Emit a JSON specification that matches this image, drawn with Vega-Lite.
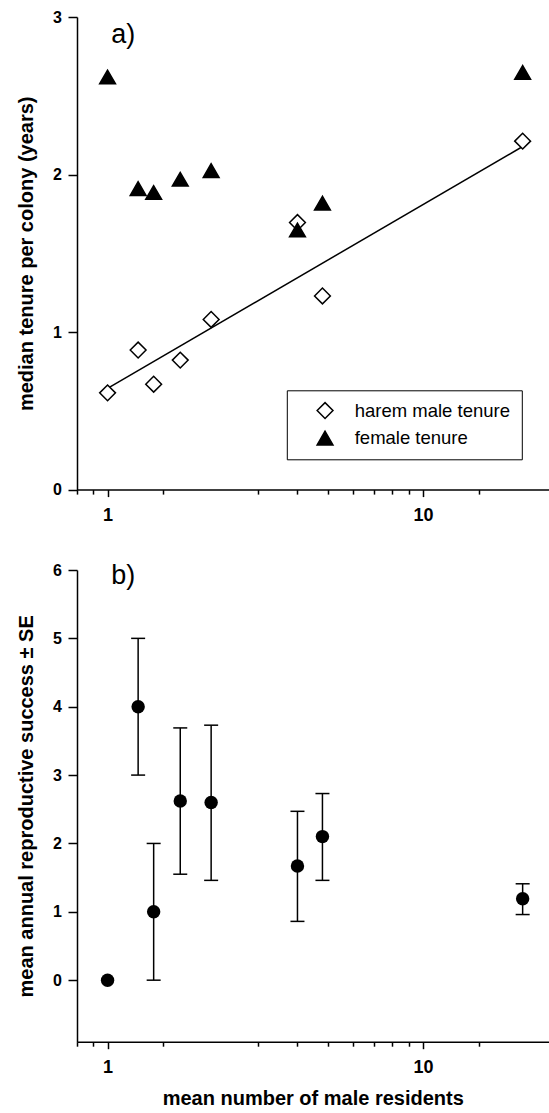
{
  "$schema": "https://vega.github.io/schema/vega-lite/v6.json",
  "background": "white",
  "padding": {"left": 16, "top": 9, "right": 0, "bottom": 0},
  "bounds": "flush",
  "spacing": 80,
  "config": {
    "font": "Liberation Sans",
    "view": {"stroke": null},
    "axis": {
      "grid": false,
      "domainColor": "black",
      "domainWidth": 1.5,
      "tickColor": "black",
      "tickWidth": 1.5,
      "labelColor": "black",
      "titleColor": "black",
      "labelFont": "Liberation Sans",
      "titleFont": "Liberation Sans",
      "labelFontWeight": "bold",
      "titleFontWeight": "bold",
      "titleFontSize": 20
    },
    "axisX": {"labelFontSize": 18, "labelPadding": 10, "titlePadding": 12},
    "axisY": {"labelFontSize": 16, "tickSize": 9, "labelPadding": 6.5, "titlePadding": 16},
    "legend": {
      "title": null,
      "strokeColor": "black",
      "padding": 11,
      "symbolOffset": 18,
      "labelOffset": 20.4,
      "labelFontSize": 18.5,
      "labelFont": "Liberation Sans",
      "labelColor": "black",
      "rowPadding": 5.5,
      "symbolSize": 250,
      "symbolStrokeWidth": 1.5,
      "labelLimit": 400
    }
  },
  "datasets": {
    "fit": [
      {"x": 1, "tenure": 0.642},
      {"x": 20.7, "tenure": 2.178}
    ],
    "tenure": [
      {"x": 1, "tenure": 0.614, "group": "harem male tenure"},
      {"x": 1.25, "tenure": 0.886, "group": "harem male tenure"},
      {"x": 1.40, "tenure": 0.669, "group": "harem male tenure"},
      {"x": 1.70, "tenure": 0.822, "group": "harem male tenure"},
      {"x": 2.13, "tenure": 1.080, "group": "harem male tenure"},
      {"x": 4.0, "tenure": 1.695, "group": "harem male tenure"},
      {"x": 4.8, "tenure": 1.229, "group": "harem male tenure"},
      {"x": 20.7, "tenure": 2.212, "group": "harem male tenure"},
      {"x": 1, "tenure": 2.619, "group": "female tenure"},
      {"x": 1.25, "tenure": 1.911, "group": "female tenure"},
      {"x": 1.40, "tenure": 1.886, "group": "female tenure"},
      {"x": 1.70, "tenure": 1.970, "group": "female tenure"},
      {"x": 2.13, "tenure": 2.025, "group": "female tenure"},
      {"x": 4.0, "tenure": 1.648, "group": "female tenure"},
      {"x": 4.8, "tenure": 1.818, "group": "female tenure"},
      {"x": 20.7, "tenure": 2.648, "group": "female tenure"}
    ],
    "rs": [
      {"x": 1, "mean": 0, "lo": null, "hi": null},
      {"x": 1.25, "mean": 4.0, "lo": 3.0, "hi": 5.0},
      {"x": 1.40, "mean": 1.0, "lo": 0.0, "hi": 2.0},
      {"x": 1.70, "mean": 2.62, "lo": 1.55, "hi": 3.69},
      {"x": 2.13, "mean": 2.60, "lo": 1.46, "hi": 3.73},
      {"x": 4.0, "mean": 1.67, "lo": 0.86, "hi": 2.47},
      {"x": 4.8, "mean": 2.10, "lo": 1.46, "hi": 2.73},
      {"x": 20.7, "mean": 1.19, "lo": 0.96, "hi": 1.41}
    ]
  },
  "vconcat": [
    {
      "width": 471.5,
      "height": 472.6,
      "layer": [
        {
          "data": {"name": "fit"},
          "mark": {"type": "line", "color": "black", "strokeWidth": 1.5},
          "encoding": {
            "x": {
              "field": "x", "type": "quantitative",
              "scale": {"type": "log", "domain": [0.8, 25], "nice": false},
              "axis": {
                "title": null,
                "values": [0.8, 0.9, 1, 1.5, 3, 4, 5, 6, 7, 8, 9, 10, 15],
                "labelExpr": "datum.value == 1 ? '1' : (datum.value == 10 ? '10' : '')",
                "tickSize": {"condition": {"test": "datum.value == 1 || datum.value == 10", "value": 7}, "value": 4.5},
                "labelOverlap": false,
                "labelFlush": false
              }
            },
            "y": {
              "field": "tenure", "type": "quantitative",
              "scale": {"domain": [0, 3], "nice": false, "zero": false},
              "axis": {"title": "median tenure per colony (years)", "values": [0, 1, 2, 3], "format": "d"}
            }
          }
        },
        {
          "data": {"name": "tenure"},
          "mark": {"type": "point", "filled": true, "strokeWidth": 1.5, "size": 250, "opacity": 1},
          "encoding": {
            "x": {"field": "x", "type": "quantitative"},
            "y": {"field": "tenure", "type": "quantitative"},
            "shape": {
              "field": "group", "type": "nominal",
              "scale": {"domain": ["harem male tenure", "female tenure"], "range": ["diamond", "triangle-up"]},
              "legend": {"orient": "none", "legendX": 209.8, "legendY": 373.3}
            },
            "fill": {
              "field": "group", "type": "nominal",
              "scale": {"domain": ["harem male tenure", "female tenure"], "range": ["white", "black"]},
              "legend": {"orient": "none", "legendX": 209.8, "legendY": 373.3}
            },
            "stroke": {
              "field": "group", "type": "nominal",
              "scale": {"domain": ["harem male tenure", "female tenure"], "range": ["black", "black"]},
              "legend": {"orient": "none", "legendX": 209.8, "legendY": 373.3}
            }
          }
        },
        {
          "data": {"values": [{"label": "a)"}]},
          "mark": {"type": "text", "fontSize": 27, "align": "left", "baseline": "alphabetic", "font": "Liberation Sans", "color": "black"},
          "encoding": {
            "x": {"datum": 1.027, "type": "quantitative"},
            "y": {"datum": 2.835, "type": "quantitative"},
            "text": {"field": "label"}
          }
        }
      ]
    },
    {
      "width": 471.5,
      "height": 471.7,
      "layer": [
        {
          "data": {"name": "rs"},
          "transform": [{"filter": "isValid(datum.lo)"}],
          "mark": {"type": "rule", "color": "black", "strokeWidth": 1.5},
          "encoding": {
            "x": {
              "field": "x", "type": "quantitative",
              "scale": {"type": "log", "domain": [0.8, 25], "nice": false},
              "axis": {
                "title": "mean number of male residents",
                "values": [0.8, 0.9, 1, 1.5, 3, 4, 5, 6, 7, 8, 9, 10, 15],
                "labelExpr": "datum.value == 1 ? '1' : (datum.value == 10 ? '10' : '')",
                "tickSize": {"condition": {"test": "datum.value == 1 || datum.value == 10", "value": 7}, "value": 4.5},
                "labelOverlap": false,
                "labelFlush": false
              }
            },
            "y": {
              "field": "lo", "type": "quantitative",
              "scale": {"domain": [-0.9, 6], "nice": false, "zero": false},
              "axis": {"title": "mean annual reproductive success ± SE", "values": [0, 1, 2, 3, 4, 5, 6], "format": "d"}
            },
            "y2": {"field": "hi"}
          }
        },
        {
          "data": {"name": "rs"},
          "transform": [{"filter": "isValid(datum.lo)"}],
          "mark": {"type": "tick", "orient": "horizontal", "size": 14, "thickness": 1.5, "color": "black", "opacity": 1},
          "encoding": {
            "x": {"field": "x", "type": "quantitative"},
            "y": {"field": "lo", "type": "quantitative", "title": "mean annual reproductive success ± SE"}
          }
        },
        {
          "data": {"name": "rs"},
          "transform": [{"filter": "isValid(datum.hi)"}],
          "mark": {"type": "tick", "orient": "horizontal", "size": 14, "thickness": 1.5, "color": "black", "opacity": 1},
          "encoding": {
            "x": {"field": "x", "type": "quantitative"},
            "y": {"field": "hi", "type": "quantitative", "title": "mean annual reproductive success ± SE"}
          }
        },
        {
          "data": {"name": "rs"},
          "mark": {"type": "circle", "size": 180, "color": "black", "opacity": 1},
          "encoding": {
            "x": {"field": "x", "type": "quantitative"},
            "y": {"field": "mean", "type": "quantitative", "title": "mean annual reproductive success ± SE"}
          }
        },
        {
          "data": {"values": [{"label": "b)"}]},
          "mark": {"type": "text", "fontSize": 27, "align": "left", "baseline": "alphabetic", "font": "Liberation Sans", "color": "black"},
          "encoding": {
            "x": {"datum": 1.027, "type": "quantitative"},
            "y": {"datum": 5.80, "type": "quantitative"},
            "text": {"field": "label"}
          }
        }
      ]
    }
  ]
}
